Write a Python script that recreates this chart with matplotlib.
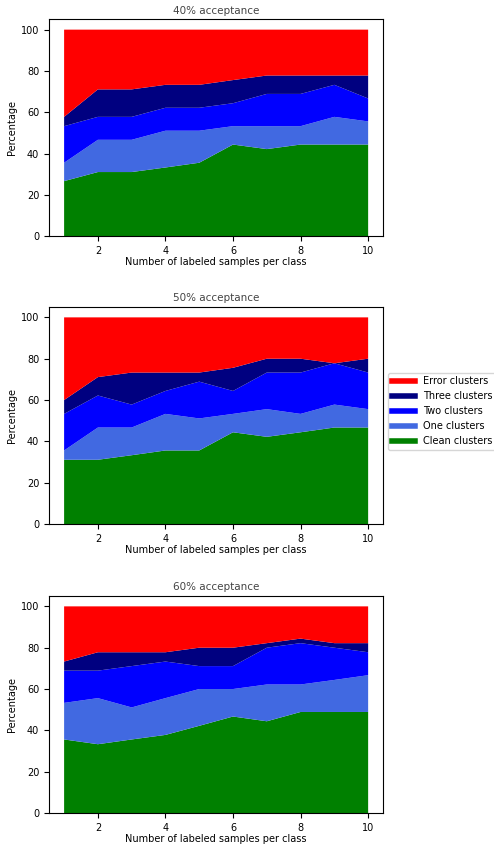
import numpy as np
import matplotlib
matplotlib.use("Agg")
import matplotlib.pyplot as plt
from matplotlib.lines import Line2D

plt.rcParams['font.size'] = 7

samples = [1, 2, 3, 4, 5, 6, 7, 8, 9, 10]
titles = ["40% acceptance", "50% acceptance", "60% acceptance"]
labels = ["Clean clusters", "One clusters", "Two clusters", "Three clusters", "Error clusters"]
colors = ["green", "royalblue", "blue", "navy", "red"]

# cumulative tops of each band (percent)
clean_40 = [26.7, 31.1, 31.1, 33.3, 35.6, 44.4, 42.2, 44.4, 44.4, 44.4]
one_40 = [35.6, 46.7, 46.7, 51.1, 51.1, 53.3, 53.3, 53.3, 57.8, 55.6]
two_40 = [53.3, 57.8, 57.8, 62.2, 62.2, 64.4, 68.9, 68.9, 73.3, 66.7]
three_40 = [57.8, 71.1, 71.1, 73.3, 73.3, 75.6, 77.8, 77.8, 77.8, 77.8]

clean_50 = [31.1, 31.1, 33.3, 35.6, 35.6, 44.4, 42.2, 44.4, 46.7, 46.7]
one_50 = [35.6, 46.7, 46.7, 53.3, 51.1, 53.3, 55.6, 53.3, 57.8, 55.6]
two_50 = [53.3, 62.2, 57.8, 64.4, 68.9, 64.4, 73.3, 73.3, 77.8, 73.3]
three_50 = [60.0, 71.1, 73.3, 73.3, 73.3, 75.6, 80.0, 80.0, 77.8, 80.0]

clean_60 = [35.6, 33.3, 35.6, 37.8, 42.2, 46.7, 44.4, 48.9, 48.9, 48.9]
one_60 = [53.3, 55.6, 51.1, 55.6, 60.0, 60.0, 62.2, 62.2, 64.4, 66.7]
two_60 = [68.9, 68.9, 71.1, 73.3, 71.1, 71.1, 80.0, 82.2, 80.0, 77.8]
three_60 = [73.3, 77.8, 77.8, 77.8, 80.0, 80.0, 82.2, 84.4, 82.2, 82.2]

cumulative = [
    [clean_40, one_40, two_40, three_40],
    [clean_50, one_50, two_50, three_50],
    [clean_60, one_60, two_60, three_60],
]

fig = plt.figure(figsize=(4.94, 8.47), dpi=100)
bottoms = [0.7210, 0.3813, 0.0401]
axes = [fig.add_axes([0.099, b, 0.677, 0.2562]) for b in bottoms]

for ax, title, tops in zip(axes, titles, cumulative):
    tops = np.array(tops + [[100] * len(samples)])
    parts = np.diff(np.vstack([np.zeros(len(samples)), tops]), axis=0)
    ax.stackplot(samples, parts, colors=colors, labels=labels)
    ax.set_title(title, color="#444444", fontsize=7.5, pad=4)
    ax.set_xlabel("Number of labeled samples per class", labelpad=1)
    ax.set_ylabel("Percentage", labelpad=3)
    ax.set_xticks([2, 4, 6, 8, 10])
    ax.set_yticks([0, 20, 40, 60, 80, 100])

handles = [Line2D([0], [0], color=c, lw=4) for c in colors[::-1]]
axes[1].legend(handles, labels[::-1], loc="center left", bbox_to_anchor=(1.005, 0.52),
               fontsize=7, handlelength=2.4, borderaxespad=0.3)

fig.savefig("out.png", dpi=100)
